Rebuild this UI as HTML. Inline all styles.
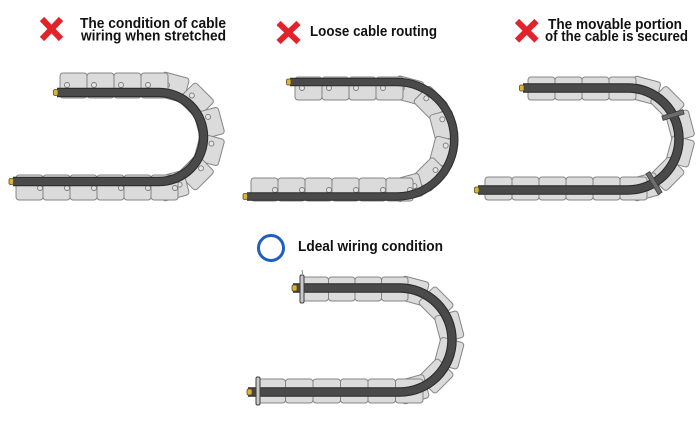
<!DOCTYPE html>
<html><head><meta charset="utf-8"><style>
html,body{margin:0;padding:0;background:#fff;}
svg{display:block;}
text{font-family:"Liberation Sans",Arial,sans-serif;font-weight:bold;font-size:15px;fill:#111;}
.lk{fill:#dbdbdb;stroke:#858585;stroke-width:1;}
.hl{fill:#e4e4e4;stroke:#7a7a7a;stroke-width:0.9;}
.cb1{fill:none;stroke:#2c2c2c;stroke-width:9.5;}
.cb2{fill:none;stroke:#4a4a4a;stroke-width:7.3;}
.cap{fill:#d9b43c;stroke:#5e4e10;stroke-width:0.8;}
.xx{stroke:#e3232b;stroke-width:6;stroke-linecap:butt;}
.clamp{fill:#6c6c6c;stroke:#3e3e3e;stroke-width:0.8;}
</style></head><body>
<svg width="700" height="422" viewBox="0 0 700 422" xmlns="http://www.w3.org/2000/svg">
<rect width="700" height="422" fill="#fff"/>

<!-- ===== Titles ===== -->
<line class="xx" x1="42" y1="19" x2="61" y2="39"/><line class="xx" x1="61" y1="19" x2="42" y2="39"/>
<text x="80" y="28" textLength="146" lengthAdjust="spacingAndGlyphs">The condition of cable</text>
<text x="81" y="40.5" textLength="145" lengthAdjust="spacingAndGlyphs">wiring when stretched</text>

<line class="xx" x1="278.5" y1="23" x2="298.5" y2="42"/><line class="xx" x1="298.5" y1="23" x2="278.5" y2="42"/>
<text x="310" y="36" textLength="127" lengthAdjust="spacingAndGlyphs">Loose cable routing</text>

<line class="xx" x1="517" y1="21" x2="536.5" y2="40.5"/><line class="xx" x1="536.5" y1="21" x2="517" y2="40.5"/>
<text x="548" y="29" textLength="134" lengthAdjust="spacingAndGlyphs">The movable portion</text>
<text x="545" y="41" textLength="143" lengthAdjust="spacingAndGlyphs">of the cable is secured</text>

<circle cx="271" cy="248" r="12.5" fill="none" stroke="#1f5fbf" stroke-width="3"/>
<text x="298" y="251" textLength="145" lengthAdjust="spacingAndGlyphs">Ldeal wiring condition</text>

<!-- ===== Diagram 1 : stretched ===== -->
<g>
  <g transform="rotate(15 160 136.5)"><rect class="lk" x="146.35" y="73" width="27.3" height="25" rx="3"/><circle class="hl" cx="153.5" cy="85" r="2.5"/></g>
  <g transform="rotate(45 160 136.5)"><rect class="lk" x="146.35" y="73" width="27.3" height="25" rx="3"/><circle class="hl" cx="153.5" cy="85" r="2.5"/></g>
  <g transform="rotate(75 160 136.5)"><rect class="lk" x="146.35" y="73" width="27.3" height="25" rx="3"/><circle class="hl" cx="153.5" cy="85" r="2.5"/></g>
  <g transform="rotate(105 160 136.5)"><rect class="lk" x="146.35" y="73" width="27.3" height="25" rx="3"/><circle class="hl" cx="153.5" cy="85" r="2.5"/></g>
  <g transform="rotate(135 160 136.5)"><rect class="lk" x="146.35" y="73" width="27.3" height="25" rx="3"/><circle class="hl" cx="153.5" cy="85" r="2.5"/></g>
  <g transform="rotate(165 160 136.5)"><rect class="lk" x="146.35" y="73" width="27.3" height="25" rx="3"/><circle class="hl" cx="153.5" cy="85" r="2.5"/></g>
  <rect class="lk" x="60" y="73" width="27" height="25" rx="3"/><circle class="hl" cx="67" cy="85" r="2.5"/>
  <rect class="lk" x="87" y="73" width="27" height="25" rx="3"/><circle class="hl" cx="94" cy="85" r="2.5"/>
  <rect class="lk" x="114" y="73" width="27" height="25" rx="3"/><circle class="hl" cx="121" cy="85" r="2.5"/>
  <rect class="lk" x="141" y="73" width="27" height="25" rx="3"/><circle class="hl" cx="148" cy="85" r="2.5"/>
  <rect class="lk" x="16" y="175" width="27" height="25" rx="3"/><circle class="hl" cx="40" cy="188" r="2.5"/>
  <rect class="lk" x="43" y="175" width="27" height="25" rx="3"/><circle class="hl" cx="67" cy="188" r="2.5"/>
  <rect class="lk" x="70" y="175" width="27" height="25" rx="3"/><circle class="hl" cx="94" cy="188" r="2.5"/>
  <rect class="lk" x="97" y="175" width="27" height="25" rx="3"/><circle class="hl" cx="121" cy="188" r="2.5"/>
  <rect class="lk" x="124" y="175" width="27" height="25" rx="3"/><circle class="hl" cx="148" cy="188" r="2.5"/>
  <rect class="lk" x="151" y="175" width="27" height="25" rx="3"/><circle class="hl" cx="175" cy="188" r="2.5"/>
  <path class="cb1" d="M57,92.5 H159 A44.5,44.5 0 0 1 159,181.5 H13"/>
  <path class="cb2" d="M57,92.5 H159 A44.5,44.5 0 0 1 159,181.5 H13"/>
  <rect class="cap" x="53.5" y="89.5" width="4.5" height="6" rx="1.5"/>
  <rect class="cap" x="9" y="178.5" width="4.5" height="6" rx="1.5"/>
</g>

<!-- ===== Diagram 2 : loose ===== -->
<g>
  <g transform="rotate(15 395 138.75)"><rect class="lk" x="381.35" y="76.75" width="27.3" height="23" rx="3"/><circle class="hl" cx="388.5" cy="88" r="2.5"/></g>
  <g transform="rotate(45 395 138.75)"><rect class="lk" x="381.35" y="76.75" width="27.3" height="23" rx="3"/><circle class="hl" cx="388.5" cy="88" r="2.5"/></g>
  <g transform="rotate(75 395 138.75)"><rect class="lk" x="381.35" y="76.75" width="27.3" height="23" rx="3"/><circle class="hl" cx="388.5" cy="88" r="2.5"/></g>
  <g transform="rotate(105 395 138.75)"><rect class="lk" x="381.35" y="76.75" width="27.3" height="23" rx="3"/><circle class="hl" cx="388.5" cy="88" r="2.5"/></g>
  <g transform="rotate(135 395 138.75)"><rect class="lk" x="381.35" y="76.75" width="27.3" height="23" rx="3"/><circle class="hl" cx="388.5" cy="88" r="2.5"/></g>
  <g transform="rotate(165 395 138.75)"><rect class="lk" x="381.35" y="76.75" width="27.3" height="23" rx="3"/><circle class="hl" cx="388.5" cy="88" r="2.5"/></g>
  <rect class="lk" x="295" y="77" width="27" height="23" rx="3"/><circle class="hl" cx="302" cy="88" r="2.5"/>
  <rect class="lk" x="322" y="77" width="27" height="23" rx="3"/><circle class="hl" cx="329" cy="88" r="2.5"/>
  <rect class="lk" x="349" y="77" width="27" height="23" rx="3"/><circle class="hl" cx="356" cy="88" r="2.5"/>
  <rect class="lk" x="376" y="77" width="27" height="23" rx="3"/><circle class="hl" cx="383" cy="88" r="2.5"/>
  <rect class="lk" x="251" y="178" width="27" height="23" rx="3"/><circle class="hl" cx="275" cy="190" r="2.5"/>
  <rect class="lk" x="278" y="178" width="27" height="23" rx="3"/><circle class="hl" cx="302" cy="190" r="2.5"/>
  <rect class="lk" x="305" y="178" width="27" height="23" rx="3"/><circle class="hl" cx="329" cy="190" r="2.5"/>
  <rect class="lk" x="332" y="178" width="27" height="23" rx="3"/><circle class="hl" cx="356" cy="190" r="2.5"/>
  <rect class="lk" x="359" y="178" width="27" height="23" rx="3"/><circle class="hl" cx="383" cy="190" r="2.5"/>
  <rect class="lk" x="386" y="178" width="27" height="23" rx="3"/><circle class="hl" cx="410" cy="190" r="2.5"/>
  <path class="cb1" d="M290,82 H397 A57.25,57.25 0 0 1 397,196.5 H247" style="stroke-width:8.5"/>
  <path class="cb2" d="M290,82 H397 A57.25,57.25 0 0 1 397,196.5 H247" style="stroke-width:6.5"/>
  <rect class="cap" x="286.5" y="79" width="4.5" height="6" rx="1.5"/>
  <rect class="cap" x="243" y="193.5" width="4.5" height="6" rx="1.5"/>
</g>

<!-- ===== Diagram 3 : secured ===== -->
<g>
  <g transform="rotate(15 632 138.5)"><rect class="lk" x="618.35" y="77" width="27.3" height="23" rx="3"/></g>
  <g transform="rotate(45 632 138.5)"><rect class="lk" x="618.35" y="77" width="27.3" height="23" rx="3"/></g>
  <g transform="rotate(75 632 138.5)"><rect class="lk" x="618.35" y="77" width="27.3" height="23" rx="3"/></g>
  <g transform="rotate(105 632 138.5)"><rect class="lk" x="618.35" y="77" width="27.3" height="23" rx="3"/></g>
  <g transform="rotate(135 632 138.5)"><rect class="lk" x="618.35" y="77" width="27.3" height="23" rx="3"/></g>
  <g transform="rotate(165 632 138.5)"><rect class="lk" x="618.35" y="77" width="27.3" height="23" rx="3"/></g>
  <rect class="lk" x="528" y="77" width="27" height="23" rx="3"/>
  <rect class="lk" x="555" y="77" width="27" height="23" rx="3"/>
  <rect class="lk" x="582" y="77" width="27" height="23" rx="3"/>
  <rect class="lk" x="609" y="77" width="27" height="23" rx="3"/>
  <rect class="lk" x="485" y="177" width="27" height="23" rx="3"/>
  <rect class="lk" x="512" y="177" width="27" height="23" rx="3"/>
  <rect class="lk" x="539" y="177" width="27" height="23" rx="3"/>
  <rect class="lk" x="566" y="177" width="27" height="23" rx="3"/>
  <rect class="lk" x="593" y="177" width="27" height="23" rx="3"/>
  <rect class="lk" x="620" y="177" width="27" height="23" rx="3"/>
  <path class="cb1" d="M523,88 H628 A51,51 0 0 1 628,190 H478"/>
  <path class="cb2" d="M523,88 H628 A51,51 0 0 1 628,190 H478"/>
  <rect class="cap" x="519.5" y="85" width="4.5" height="6" rx="1.5"/>
  <rect class="cap" x="474.5" y="187" width="4.5" height="6" rx="1.5"/>
  <rect class="clamp" x="662" y="112.75" width="22" height="4.5" transform="rotate(-17 673 115)"/>
  <rect class="clamp" x="642" y="180.75" width="24" height="4.5" transform="rotate(59 654 183)"/>
</g>

<!-- ===== Diagram 4 : ideal ===== -->
<g>
  <g transform="rotate(15 400 340)"><rect class="lk" x="386.35" y="277" width="27.3" height="24" rx="3"/></g>
  <g transform="rotate(45 400 340)"><rect class="lk" x="386.35" y="277" width="27.3" height="24" rx="3"/></g>
  <g transform="rotate(75 400 340)"><rect class="lk" x="386.35" y="277" width="27.3" height="24" rx="3"/></g>
  <g transform="rotate(105 400 340)"><rect class="lk" x="386.35" y="277" width="27.3" height="24" rx="3"/></g>
  <g transform="rotate(135 400 340)"><rect class="lk" x="386.35" y="277" width="27.3" height="24" rx="3"/></g>
  <g transform="rotate(165 400 340)"><rect class="lk" x="386.35" y="277" width="27.3" height="24" rx="3"/></g>
  <rect class="lk" x="302" y="277" width="26.5" height="24" rx="3"/>
  <rect class="lk" x="328.5" y="277" width="26.5" height="24" rx="3"/>
  <rect class="lk" x="355" y="277" width="26.5" height="24" rx="3"/>
  <rect class="lk" x="381.5" y="277" width="26.5" height="24" rx="3"/>
  <rect class="lk" x="258" y="379" width="27.5" height="24" rx="3"/>
  <rect class="lk" x="285.5" y="379" width="27.5" height="24" rx="3"/>
  <rect class="lk" x="313" y="379" width="27.5" height="24" rx="3"/>
  <rect class="lk" x="340.5" y="379" width="27.5" height="24" rx="3"/>
  <rect class="lk" x="368" y="379" width="27.5" height="24" rx="3"/>
  <rect class="lk" x="395.5" y="379" width="27.5" height="24" rx="3"/>
  <path class="cb1" d="M293,288 H400 A52,52 0 0 1 400,392 H248"/>
  <path class="cb2" d="M293,288 H400 A52,52 0 0 1 400,392 H248"/>
  <rect x="300" y="275" width="4" height="28" rx="1.5" fill="#c9c9c9" stroke="#3c3c3c" stroke-width="1"/>
  <rect x="256" y="377" width="4" height="28" rx="1.5" fill="#c9c9c9" stroke="#3c3c3c" stroke-width="1"/>
  <line x1="302" y1="270" x2="302.5" y2="274" stroke="#666" stroke-width="0.8"/>
  <rect class="cap" x="292" y="285" width="5" height="6" rx="1.5"/>
  <rect class="cap" x="247" y="389" width="5" height="6" rx="1.5"/>
</g>
</svg>
</body></html>
